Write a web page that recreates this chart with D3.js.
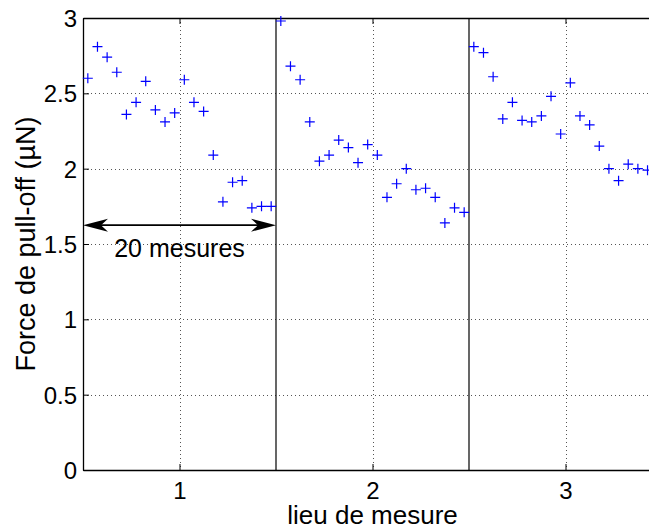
<!DOCTYPE html>
<html>
<head>
<meta charset="utf-8">
<script src="https://cdn.jsdelivr.net/npm/d3@7"></script>
<style>
  html, body { margin: 0; padding: 0; background: #fff; overflow: hidden; }
  svg { display: block; font-family: "Liberation Sans", Arial, Helvetica, sans-serif; }
</style>
</head>
<body>
<svg id="chart" width="649" height="529"></svg>
<script>
// ---- data ----
const locations = [1, 2, 3];
const location1 = [2.60, 2.81, 2.74, 2.64, 2.36, 2.44, 2.58, 2.39, 2.31, 2.37,
                   2.59, 2.44, 2.38, 2.09, 1.78, 1.91, 1.92, 1.74, 1.75, 1.75];
const location2 = [2.98, 2.68, 2.59, 2.31, 2.05, 2.09, 2.19, 2.14, 2.04, 2.16,
                   2.09, 1.81, 1.90, 2.00, 1.86, 1.87, 1.81, 1.64, 1.74, 1.71];
const location3 = [2.81, 2.77, 2.61, 2.33, 2.44, 2.32, 2.31, 2.35, 2.48, 2.23,
                   2.57, 2.35, 2.29, 2.15, 2.00, 1.92, 2.03, 2.00, 1.99];
const measuresPerLocation = 20;
const xTicks = [1, 2, 3];
const yTicks = [0, 0.5, 1, 1.5, 2, 2.5, 3];
const separators = [1.5, 2.5];
const xLabel = "lieu de mesure";
const yLabel = "Force de pull-off (µN)";
const annotationText = "20 mesures";
const annotationY = 1.625;
const annotationRange = [0.5, 1.5];
const annotationTextY = 1.415;

// ---- layout ----
const svg = d3.select("#chart");
const mLeft = 83, mTop = 18, mBottom = 470;
const x = d3.scaleLinear().domain([0.5, 3.5]).range([mLeft, mLeft + 579]);
const y = d3.scaleLinear().domain([0, 3]).range([mBottom, mTop]);
const mRight = x(3.5);

// grid
const grid = svg.append("g").attr("stroke", "#555").attr("stroke-width", 1)
  .attr("stroke-dasharray", "1,3").attr("shape-rendering", "crispEdges");
xTicks.forEach(t => grid.append("line")
  .attr("x1", Math.round(x(t)) + 0.5).attr("x2", Math.round(x(t)) + 0.5)
  .attr("y1", mTop).attr("y2", mBottom));
yTicks.filter(t => t > 0 && t < 3).forEach(t => grid.append("line")
  .attr("x1", mLeft).attr("x2", mRight)
  .attr("y1", Math.round(y(t)) + 0.5).attr("y2", Math.round(y(t)) + 0.5));

// axes (MATLAB style: inward ticks)
const tickLen = 6;
const gx = svg.append("g").attr("transform", `translate(0,${mBottom})`)
  .call(d3.axisBottom(x).tickValues(xTicks).tickSizeInner(-tickLen).tickSizeOuter(0).tickPadding(12).tickFormat(d3.format("d")));
const gxTop = svg.append("g").attr("transform", `translate(0,${mTop})`)
  .call(d3.axisTop(x).tickValues(xTicks).tickSizeInner(-tickLen).tickSizeOuter(0).tickFormat(""));
const gy = svg.append("g").attr("transform", `translate(${mLeft},0)`)
  .call(d3.axisLeft(y).tickValues(yTicks).tickSizeInner(-tickLen).tickSizeOuter(0).tickPadding(6).tickFormat(d => String(d)));
[gx, gxTop, gy].forEach(g => {
  g.select(".domain").attr("stroke", "#000").attr("stroke-width", 1.3);
  g.selectAll(".tick line").attr("stroke", "#000");
  g.selectAll("text").attr("font-size", 24).attr("fill", "#000")
    .attr("font-family", "Liberation Sans, Arial, sans-serif");
});
gx.selectAll("text").attr("dy", "0.71em");
gy.selectAll("text").attr("dy", "0.36em");

// separators between locations
separators.forEach(s => svg.append("line")
  .attr("x1", x(s)).attr("x2", x(s)).attr("y1", y(0)).attr("y2", y(3))
  .attr("stroke", "#000").attr("stroke-width", 1.2));

// points
const series = [location1, location2, location3];
const points = [];
series.forEach((vals, gi) => vals.forEach((v, i) => {
  points.push({ xv: locations[gi] - 0.5 + (i + 0.5) / measuresPerLocation, v });
}));
const ms = 5;
const pg = svg.append("g").attr("stroke", "#0000ff").attr("stroke-width", 1.2).attr("fill", "none");
pg.selectAll("path").data(points).join("path")
  .attr("d", d => {
    const cx = x(d.xv), cy = y(d.v);
    return `M${cx - ms},${cy}H${cx + ms}M${cx},${cy - ms}V${cy + ms}`;
  });

// annotation arrow
const ay = y(annotationY);
const ax1 = x(annotationRange[0]), ax2 = x(annotationRange[1]);
svg.append("line").attr("x1", ax1 + 5).attr("x2", ax2 - 5).attr("y1", ay).attr("y2", ay)
  .attr("stroke", "#000").attr("stroke-width", 1.8);
const hl = 25, hw = 6.5, hin = 18;
svg.append("path").attr("fill", "#000")
  .attr("d", `M${ax1},${ay}L${ax1 + hl},${ay - hw}L${ax1 + hin},${ay}L${ax1 + hl},${ay + hw}Z`);
svg.append("path").attr("fill", "#000")
  .attr("d", `M${ax2},${ay}L${ax2 - hl},${ay - hw}L${ax2 - hin},${ay}L${ax2 - hl},${ay + hw}Z`);
svg.append("text").attr("x", x((annotationRange[0] + annotationRange[1]) / 2)).attr("y", y(annotationTextY))
  .attr("text-anchor", "middle").attr("font-size", 25).attr("fill", "#000").text(annotationText);

// axis labels
svg.append("text").attr("x", x(2)).attr("y", 524).attr("text-anchor", "middle")
  .attr("font-size", 26).attr("fill", "#000").text(xLabel);
svg.append("text").attr("transform", `translate(35,${(mTop + mBottom) / 2}) rotate(-90)`)
  .attr("text-anchor", "middle").attr("font-size", 27).attr("fill", "#000").text(yLabel);
</script>
</body>
</html>
